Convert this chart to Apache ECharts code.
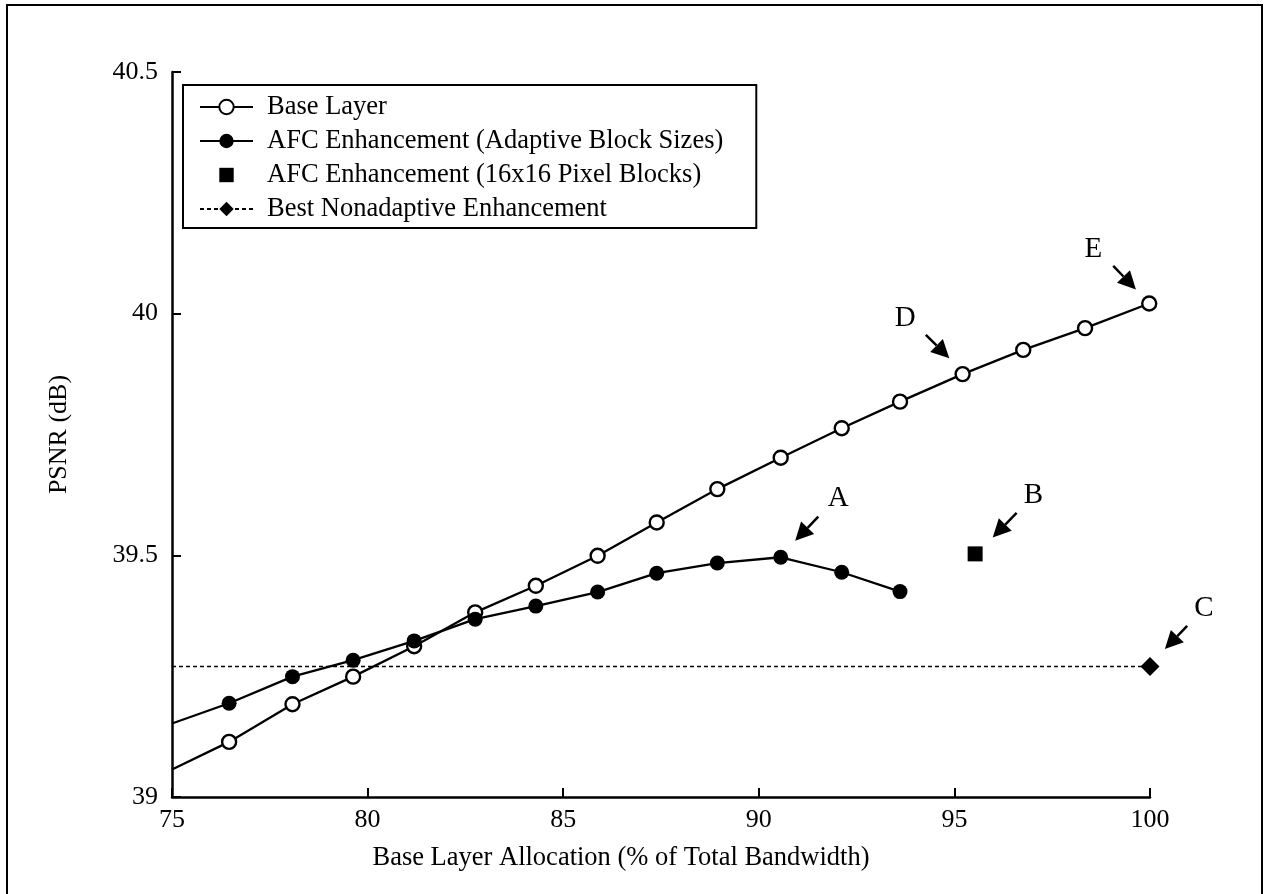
<!DOCTYPE html>
<html><head><meta charset="utf-8">
<script src="https://cdn.jsdelivr.net/npm/echarts/dist/echarts.min.js"></script>
<style>html,body{margin:0;padding:0;background:#fff}#c{width:1267px;height:894px}</style>
</head><body><div id="c"></div>
<script>
// ---- data ----
const baseX = [75, 76.46, 78.08, 79.63, 81.19, 82.75, 84.30, 85.88, 87.39, 88.94, 90.56, 92.12, 93.61, 95.21, 96.76, 98.34, 99.98];
const baseY = [39.057, 39.114, 39.192, 39.249, 39.312, 39.382, 39.437, 39.499, 39.568, 39.637, 39.702, 39.763, 39.818, 39.875, 39.925, 39.970, 40.021];
const afcX = [75, 76.46, 78.08, 79.63, 81.19, 82.75, 84.30, 85.88, 87.39, 88.94, 90.56, 92.12, 93.61];
const afcY = [39.152, 39.194, 39.249, 39.283, 39.323, 39.368, 39.395, 39.424, 39.463, 39.484, 39.496, 39.465, 39.425];
const blockX = [95.53];
const blockY = [39.503];
const bestX = [75, 100];
const bestY = [39.27, 39.27];
const seriesNames = ['Base Layer', 'AFC Enhancement (Adaptive Block Sizes)', 'AFC Enhancement (16x16 Pixel Blocks)', 'Best Nonadaptive Enhancement'];
const xTicks = [75, 80, 85, 90, 95, 100];
const yTicks = [39, 39.5, 40, 40.5];
const annotText = ['A', 'B', 'C', 'D', 'E'];
const annotLabelAt = [[92.03, 39.618], [97.02, 39.625], [101.38, 39.390], [93.74, 39.990], [98.55, 40.132]];
const annotArrowFrom = [[91.52, 39.580], [96.59, 39.588], [100.95, 39.354], [94.27, 39.956], [99.06, 40.099]];
const annotArrowTo = [[90.93, 39.530], [95.98, 39.537], [100.38, 39.306], [94.87, 39.908], [99.64, 40.050]];

const FONT = 'Liberation Serif';
function pts(xs, ys, firstNone) {
  return xs.map((x, i) => (firstNone && i === 0) ? { value: [x, ys[i]], symbol: 'none' } : [x, ys[i]]);
}

const chart = echarts.init(document.getElementById('c'));
chart.setOption({
  animation: false,
  backgroundColor: '#fff',
  grid: { left: 172, right: 117, top: 72, bottom: 97, containLabel: false },
  xAxis: {
    type: 'value', min: xTicks[0], max: xTicks[xTicks.length - 1], interval: 5,
    name: 'Base Layer Allocation (% of Total Bandwidth)', nameLocation: 'middle', nameGap: 48,
    nameTextStyle: { fontFamily: FONT, fontSize: 26.5, color: '#000', padding: [0, 80, 0, 0] },
    axisLine: { lineStyle: { color: '#000', width: 2.5 } },
    axisTick: { inside: true, length: 9, lineStyle: { color: '#000', width: 2 } },
    axisLabel: { fontFamily: FONT, fontSize: 26, color: '#000', margin: 10 },
    splitLine: { show: false }
  },
  yAxis: {
    type: 'value', min: yTicks[0], max: yTicks[yTicks.length - 1], interval: 0.5,
    name: 'PSNR (dB)', nameLocation: 'middle', nameGap: 100,
    nameTextStyle: { fontFamily: FONT, fontSize: 26, color: '#000' },
    axisLine: { lineStyle: { color: '#000', width: 2.5 } },
    axisTick: { inside: true, length: 9, lineStyle: { color: '#000', width: 2 } },
    axisLabel: { fontFamily: FONT, fontSize: 26, color: '#000', margin: 14 },
    splitLine: { show: false }
  },
  legend: {
    orient: 'vertical', left: 183, top: 85,
    borderColor: '#000', borderWidth: 2, padding: [8, 33, 5, 16],
    itemWidth: 53, itemHeight: 18, itemGap: 6,
    textStyle: { fontFamily: FONT, fontSize: 26.5, color: '#000', lineHeight: 28, padding: [0, 0, 0, 9] },
    data: seriesNames
  },
  series: [
    {
      name: seriesNames[0], type: 'line', data: pts(baseX, baseY, true),
      symbol: 'circle', symbolSize: 14, showAllSymbol: true,
      lineStyle: { color: '#000', width: 2.3 },
      itemStyle: { color: '#fff', borderColor: '#000', borderWidth: 2.4 },
      z: 3
    },
    {
      name: seriesNames[1], type: 'line', data: pts(afcX, afcY, true),
      symbol: 'circle', symbolSize: 15, showAllSymbol: true,
      lineStyle: { color: '#000', width: 2.3 },
      itemStyle: { color: '#000' },
      z: 4
    },
    {
      name: seriesNames[2], type: 'line', data: pts(blockX, blockY, false),
      symbol: 'rect', symbolSize: 15, showAllSymbol: true,
      lineStyle: { color: '#000', width: 0, opacity: 0 },
      itemStyle: { color: '#000', opacity: 1 }
    },
    {
      name: seriesNames[3], type: 'line', data: pts(bestX, bestY, true),
      symbol: 'diamond', symbolSize: 19, showAllSymbol: true,
      lineStyle: { color: '#000', width: 1.3, type: [4, 3] },
      itemStyle: { color: '#000' },
      z: 2
    }
  ]
});

// annotations placed through the chart's own coordinate conversion
const g = [];
for (let i = 0; i < annotText.length; i++) {
  const lp = chart.convertToPixel({ gridIndex: 0 }, annotLabelAt[i]);
  const a = chart.convertToPixel({ gridIndex: 0 }, annotArrowFrom[i]);
  const b = chart.convertToPixel({ gridIndex: 0 }, annotArrowTo[i]);
  const dx = b[0] - a[0], dy = b[1] - a[1];
  const L = Math.sqrt(dx * dx + dy * dy);
  const ux = dx / L, uy = dy / L;
  const headLen = 18, halfW = 9;
  const bx = b[0] - ux * headLen, by = b[1] - uy * headLen;
  g.push({ type: 'line', shape: { x1: a[0], y1: a[1], x2: bx, y2: by }, style: { stroke: '#000', lineWidth: 2.5 } });
  g.push({ type: 'polygon', shape: { points: [[b[0], b[1]], [bx - uy * halfW, by + ux * halfW], [bx + uy * halfW, by - ux * halfW]] }, style: { fill: '#000' } });
  g.push({ type: 'text', x: lp[0], y: lp[1], style: { text: annotText[i], font: '29px "Liberation Serif"', fill: '#000', align: 'center', verticalAlign: 'middle' } });
}
g.push({ type: 'rect', shape: { x: 7, y: 5, width: 1255, height: 900 }, style: { fill: 'none', stroke: '#000', lineWidth: 2 }, silent: true });
chart.setOption({ graphic: g });
</script>
</body></html>
